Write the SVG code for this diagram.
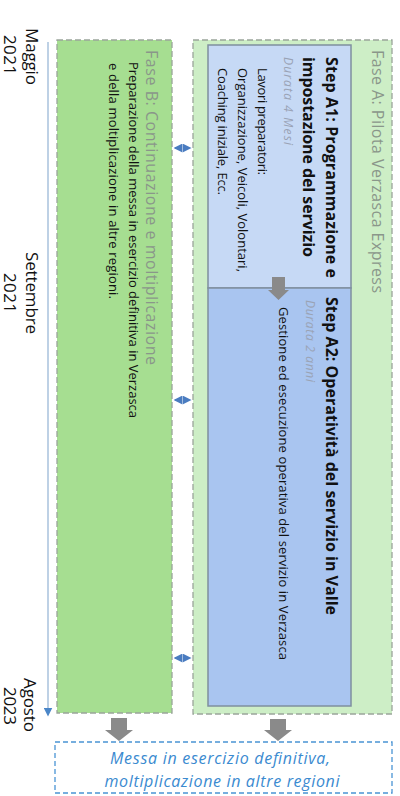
<svg xmlns="http://www.w3.org/2000/svg" width="400" height="796" viewBox="0 0 400 796">
<style>
text{font-family:"Open Sans","Liberation Sans",sans-serif;fill:#111}
.phase{stroke:#9aa59a;stroke-width:1.3;stroke-dasharray:6 3}
.step{stroke:#7f8f9f;stroke-width:1.5}
.ptitle{font-size:16px;fill:#8a968a}
.stitle{font-size:16px;font-weight:bold}
.dur{font-size:12px;font-style:italic;fill:#9aa3b5}
.body{font-size:13px}
.date{font-size:17px}
.blk{fill:#8a8a8a}
.dbl{stroke:#4a7cc0;stroke-width:1.5;stroke-dasharray:2 2;fill:none}
.final{font-size:16px;font-style:italic;fill:#3a8ad0}
</style>
<defs>
<marker id="ah" viewBox="0 0 6 6" refX="5" refY="3" markerWidth="6" markerHeight="6" orient="auto-start-reverse"><path d="M0,0 L6,3 L0,6 Z" fill="#4a7cc0"/></marker>
<marker id="tl" viewBox="0 0 6 6" refX="3" refY="3" markerWidth="6" markerHeight="6" orient="auto"><path d="M0,0 L6,3 L0,6 Z" fill="#4a86c8"/></marker>
</defs>
<rect width="400" height="796" fill="#fff"/>

<g id="timeline">
<line x1="48" y1="42" x2="48" y2="712" stroke="#a9c2dd" stroke-width="1.5" marker-end="url(#tl)"/>
<text class="date" transform="translate(26,28) rotate(90)" textLength="57">Maggio</text>
<text class="date" transform="translate(4,35) rotate(90)" textLength="40">2021</text>
<text class="date" transform="translate(26,252) rotate(90)" textLength="82">Settembre</text>
<text class="date" transform="translate(4,273) rotate(90)" textLength="40">2021</text>
<text class="date" transform="translate(24,678) rotate(90)" textLength="54">Agosto</text>
<text class="date" transform="translate(4,687) rotate(90)" textLength="38">2023</text>
</g>

<g id="faseB">
<rect class="phase" x="57" y="40" width="115" height="673" fill="#a6de91"/>
<text class="ptitle" transform="translate(146,50) rotate(90)" textLength="315">Fase B: Continuazione e moltiplicazione</text>
<text class="body" transform="translate(129,62) rotate(90)" textLength="356">Preparazione della messa in esercizio definitiva in Verzasca</text>
<text class="body" transform="translate(109,63) rotate(90)" textLength="236">e della moltiplicazione in altre regioni.</text>
</g>

<g id="faseA">
<rect class="phase" x="193" y="40" width="199" height="674" fill="#cdeec6"/>
<text class="ptitle" transform="translate(372,50) rotate(90)" textLength="243">Fase A: Pilota Verzasca Express</text>
</g>

<g id="stepA1">
<rect class="step" x="208" y="45" width="143" height="243" fill="#c6d9f5"/>
<text class="stitle" transform="translate(326,57) rotate(90)" textLength="221">Step A1: Programmazione e</text>
<text class="stitle" transform="translate(303,57) rotate(90)" textLength="200">impostazione del servizio</text>
<text class="dur" transform="translate(284,57) rotate(90)" textLength="88">Durata 4 Mesi</text>
<text class="body" transform="translate(258,68) rotate(90)" textLength="107">Lavori preparatori:</text>
<text class="body" transform="translate(238,68) rotate(90)" textLength="204">Organizzazione, Veicoli, Volontari,</text>
<text class="body" transform="translate(218,68) rotate(90)" textLength="127">Coaching iniziale, Ecc.</text>
</g>

<g id="stepA2">
<rect class="step" x="208" y="288" width="143" height="418" fill="#a9c5f0"/>
<text class="stitle" transform="translate(326,297) rotate(90)" textLength="318">Step A2: Operatività del servizio in Valle</text>
<text class="dur" transform="translate(306,300) rotate(90)" textLength="82">Durata 2 anni</text>
<text class="body" transform="translate(279,307) rotate(90)" textLength="353">Gestione ed esecuzione operativa del servizio in Verzasca</text>
</g>

<g id="final">
<rect x="55" y="742" width="337" height="51" fill="#fff" stroke="#4a94d4" stroke-width="1.3" stroke-dasharray="5 3"/>
<text class="final" x="220" y="764" text-anchor="middle" textLength="220">Messa in esercizio definitiva,</text>
<text class="final" x="222" y="787" text-anchor="middle" textLength="235">moltiplicazione in altre regioni</text>
</g>

<g id="connectors">
<path class="blk" d="M272,277 H285 V290 H289 L278.5,300 L268,290 H272 Z"/>
<path class="blk" d="M111,718 H127 V730 H133 L119,741 L105,730 H111 Z"/>
<path class="blk" d="M270,719 H286 V730 H292 L278,741 L264,730 H270 Z"/>
<line class="dbl" x1="175" y1="148" x2="190" y2="148" marker-start="url(#ah)" marker-end="url(#ah)"/>
<line class="dbl" x1="175" y1="400" x2="190" y2="400" marker-start="url(#ah)" marker-end="url(#ah)"/>
<line class="dbl" x1="175" y1="658" x2="190" y2="658" marker-start="url(#ah)" marker-end="url(#ah)"/>
</g>
</svg>
